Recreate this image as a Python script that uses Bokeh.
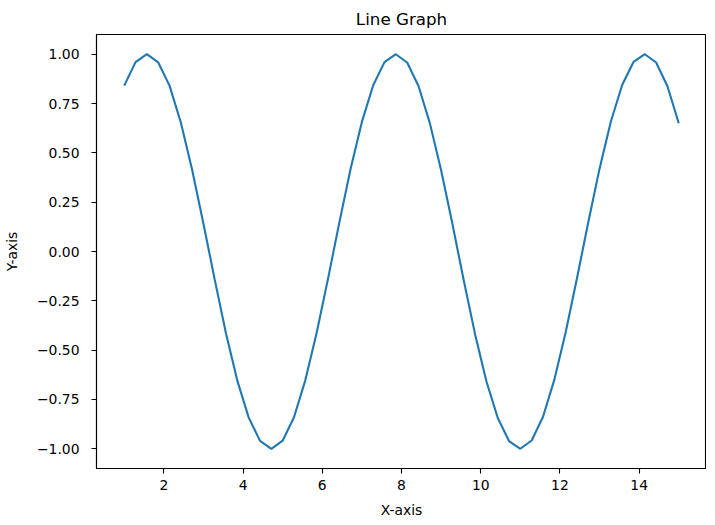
from bokeh.plotting import figure
from bokeh.models import FixedTicker, CustomJSTickFormatter, Range1d, ColumnDataSource
from bokeh.embed import file_html
from bokeh.resources import INLINE

# Data
x_vals = [1.000, 1.286, 1.571, 1.857, 2.143, 2.429, 2.714, 3.000, 3.286, 3.571,
          3.857, 4.143, 4.429, 4.714, 5.000, 5.286, 5.571, 5.857, 6.143, 6.429,
          6.714, 7.000, 7.286, 7.571, 7.857, 8.143, 8.429, 8.714, 9.000, 9.286,
          9.571, 9.857, 10.143, 10.429, 10.714, 11.000, 11.286, 11.571, 11.857, 12.143,
          12.429, 12.714, 13.000, 13.286, 13.571, 13.857, 14.143, 14.429, 14.714, 15.000]
y_vals = [0.841, 0.960, 1.000, 0.959, 0.841, 0.654, 0.414, 0.141, -0.144, -0.417,
          -0.656, -0.842, -0.960, -1.000, -0.959, -0.840, -0.653, -0.413, -0.140, 0.145,
          0.418, 0.657, 0.843, 0.960, 1.000, 0.958, 0.839, 0.652, 0.412, 0.139,
          -0.146, -0.419, -0.658, -0.843, -0.961, -1.000, -0.958, -0.839, -0.651, -0.411,
          -0.137, 0.147, 0.420, 0.659, 0.844, 0.961, 1.000, 0.958, 0.838, 0.650]
x_ticks = [2, 4, 6, 8, 10, 12, 14]
y_ticks = [-1.0, -0.75, -0.5, -0.25, 0.0, 0.25, 0.5, 0.75, 1.0]
title_text = "Line Graph"
x_label = "X-axis"
y_label = "Y-axis"

FONT = "DejaVu Sans"

src = ColumnDataSource(data=dict(x=x_vals, y=y_vals))

p = figure(frame_width=610, frame_height=434, output_backend="svg", toolbar_location=None,
           x_range=Range1d(0.3, 15.7), y_range=Range1d(-1.1, 1.1),
           min_border_left=0, min_border_right=0, min_border_top=0, min_border_bottom=0)

p.line("x", "y", source=src, line_color="#1f77b4", line_width=2.1)

p.title.text = title_text
p.title.align = "center"
p.title.text_font = FONT
p.title.text_font_size = "16.7px"
p.title.text_font_style = "normal"
p.title.text_color = "black"
p.title.offset = 0
p.title.standoff = 12

p.grid.visible = False
p.outline_line_color = "black"
p.outline_line_width = 1.1
p.background_fill_color = "white"
p.border_fill_color = "white"

for ax in (p.xaxis[0], p.yaxis[0]):
    ax.axis_line_color = "black"
    ax.axis_line_width = 1.1
    ax.major_tick_line_color = "black"
    ax.major_tick_line_width = 1.1
    ax.major_tick_in = 0
    ax.major_tick_out = 5
    ax.minor_tick_line_color = None
    ax.major_label_text_font = FONT
    ax.major_label_text_font_size = "13.9px"
    ax.major_label_text_color = "black"
    ax.axis_label_text_font = FONT
    ax.axis_label_text_font_size = "13.9px"
    ax.axis_label_text_font_style = "normal"
    ax.axis_label_text_color = "black"

p.xaxis[0].ticker = FixedTicker(ticks=x_ticks)
p.yaxis[0].ticker = FixedTicker(ticks=y_ticks)
p.yaxis[0].formatter = CustomJSTickFormatter(code="return tick.toFixed(2).replace('-', '\u2212');")
p.xaxis[0].axis_label = x_label
p.yaxis[0].axis_label = y_label
p.xaxis[0].major_label_standoff = 6
p.xaxis[0].axis_label_standoff = 9
p.yaxis[0].major_label_standoff = 12
p.yaxis[0].axis_label_standoff = 14

open("out.html", "w").write(file_html(p, INLINE))
